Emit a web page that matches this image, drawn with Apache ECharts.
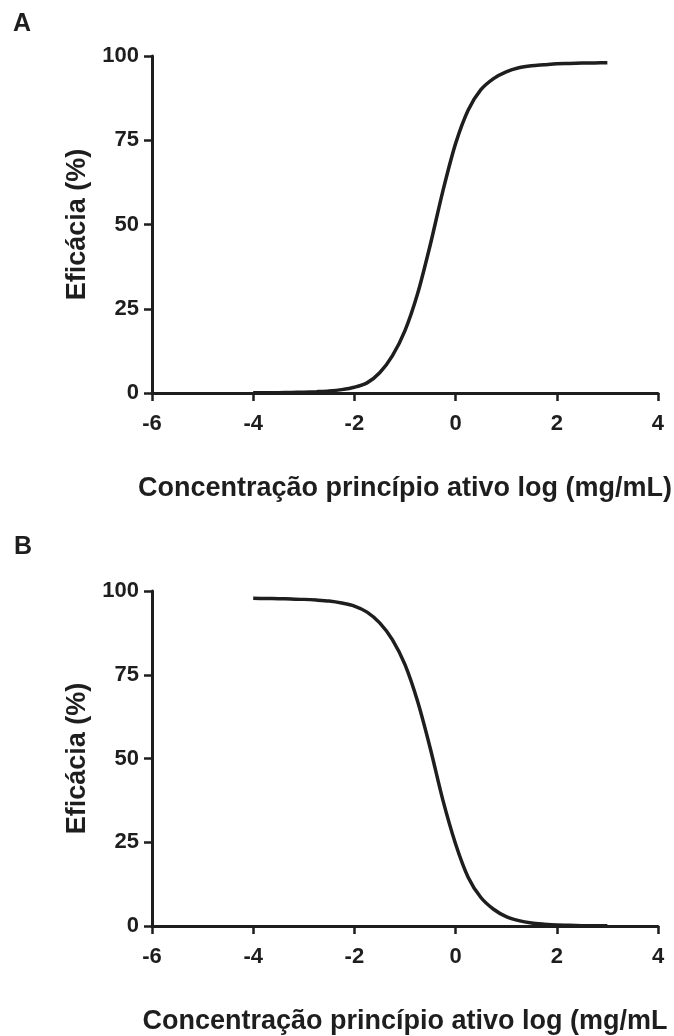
<!DOCTYPE html>
<html>
<head>
<meta charset="utf-8">
<script src="https://cdn.jsdelivr.net/npm/echarts@6/dist/echarts.min.js"></script>
<style>
html,body{margin:0;padding:0;background:#fff;}
#chart{width:674px;height:1036px;}
</style>
</head>
<body>
<div id="chart"></div>
<script>
// log concentration values (x)
var xValues = [-4, -3.75, -3.5, -3.25, -3, -2.75, -2.5, -2.25, -2, -1.75, -1.5, -1.25, -1, -0.75, -0.5, -0.25, 0, 0.25, 0.5, 0.75, 1, 1.25, 1.5, 1.75, 2, 2.25, 2.5, 2.75, 3];
// Panel A efficacy (%)
var effA = [0.05, 0.07, 0.1, 0.15, 0.25, 0.4, 0.6, 1.0, 1.7, 3.0, 6.0, 11, 18.5, 29.5, 44, 60, 74, 84, 90, 93.3, 95.3, 96.5, 97.1, 97.4, 97.7, 97.8, 97.9, 97.95, 98];
// Panel B efficacy (%)
var effB = [97.8, 97.75, 97.7, 97.6, 97.5, 97.3, 97.0, 96.4, 95.5, 93.7, 90.5, 85.5, 78, 67, 53, 37.5, 24.5, 14.5, 8.5, 5, 2.8, 1.6, 0.9, 0.55, 0.3, 0.2, 0.1, 0.07, 0.05];
var panelLabels = ['A', 'B'];
var xTitleA = 'Concentração princípio ativo log (mg/mL)';
var xTitleB = 'Concentração princípio ativo log (mg/mL';
var yTitle = 'Eficácia (%)';

function pairs(xs, ys){ return xs.map(function(x,i){ return [x, ys[i]]; }); }

var FONT = '"Liberation Sans", Arial, sans-serif';
var INK = '#1e1e1e';

function xAxis(idx, name, gap){
  return {
    type: 'value', gridIndex: idx, min: -6, max: 4, interval: 2,
    name: name, nameLocation: 'middle', nameGap: gap,
    nameTextStyle: {fontFamily: FONT, fontWeight: 'bold', fontSize: 27, color: INK},
    axisLine: {show: true, onZero: false, lineStyle: {color: INK, width: 3}},
    axisTick: {show: true, length: 8, lineStyle: {color: INK, width: 2.5}},
    axisLabel: {fontFamily: FONT, fontWeight: 'bold', fontSize: 22, color: INK, margin: 20},
    splitLine: {show: false}
  };
}
function yAxis(idx){
  return {
    type: 'value', gridIndex: idx, min: 0, max: 100, interval: 25,
    name: yTitle, nameLocation: 'middle', nameGap: 60, nameRotate: 90,
    nameTextStyle: {fontFamily: FONT, fontWeight: 'bold', fontSize: 27, color: INK},
    axisLine: {show: true, onZero: false, lineStyle: {color: INK, width: 3}},
    axisTick: {show: true, length: 8, lineStyle: {color: INK, width: 2.5}},
    axisLabel: {fontFamily: FONT, fontWeight: 'bold', fontSize: 22, color: INK, margin: 13},
    splitLine: {show: false}
  };
}

var chart = echarts.init(document.getElementById('chart'), null, {renderer: 'canvas'});
chart.setOption({
  backgroundColor: '#ffffff',
  animation: false,
  grid: [
    {left: 152, right: 16, top: 56, height: 337},
    {left: 152, right: 16, top: 591, height: 336}
  ],
  xAxis: [xAxis(0, xTitleA, 82), xAxis(1, xTitleB, 82)],
  yAxis: [yAxis(0), yAxis(1)],
  graphic: [
    {type: 'text', left: 13, top: 12, style: {text: panelLabels[0], fontFamily: FONT, fontWeight: 'bold', fontSize: 25, fill: INK}},
    {type: 'text', left: 14, top: 535, style: {text: panelLabels[1], fontFamily: FONT, fontWeight: 'bold', fontSize: 25, fill: INK}}
  ],
  series: [
    {type: 'line', xAxisIndex: 0, yAxisIndex: 0, data: pairs(xValues, effA), smooth: 0.3, showSymbol: false, lineStyle: {color: INK, width: 3.5}},
    {type: 'line', xAxisIndex: 1, yAxisIndex: 1, data: pairs(xValues, effB), smooth: 0.3, showSymbol: false, lineStyle: {color: INK, width: 3.5}}
  ]
});
</script>
</body>
</html>
